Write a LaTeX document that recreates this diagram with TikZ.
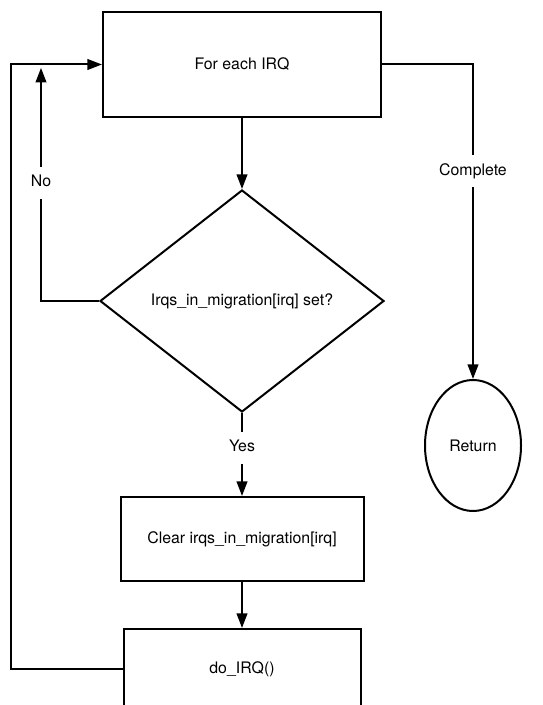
\documentclass[tikz,border=0pt]{standalone}
\usepackage{fontspec}
\setmainfont{TeX Gyre Heros}
\usetikzlibrary{arrows.meta,shapes.geometric}

\tikzset{
  box/.style={draw, minimum width=208.5pt, minimum height=78.75pt},
  test/.style={draw, diamond, aspect=1.28, minimum width=213pt, minimum height=166.5pt, inner sep=0pt},
  term/.style={draw, ellipse, minimum width=72pt, minimum height=98.25pt, inner sep=0pt},
  lbl/.style={fill=white, inner xsep=1pt, inner ysep=6.5pt, text height=8.5pt, text depth=2.5pt}
}

\begin{document}
\begin{tikzpicture}[x=0.75pt,y=-0.75pt,line width=1.5pt,
  >={Triangle[length=11pt,width=8pt]},
  font=\fontsize{11.9pt}{14pt}\selectfont]
  \useasboundingbox (0,0) rectangle (542,705);
  \clip (0,0) rectangle (542,705);

  \node[box] (each) at (242,64.5) {For each IRQ};
  \node[test] (chk) at (242,301) {Irqs\_in\_migration[irq] set?};
  \node[box, minimum width=182.25pt, minimum height=63pt] (clr) at (242,539) {Clear irqs\_in\_migration[irq]};
  \node[box, minimum width=177.75pt, minimum height=60pt] (doirq) at (242,669) {do\_IRQ()};
  \node[term] (ret) at (473,445.5) {Return};

  \coordinate (back) at (11,669);
  \coordinate (nojoin) at (41,64.5);

  \path[->] (each) edge (chk)
            (chk)  edge node[lbl, pos=0.42] {Yes} (clr)
            (clr)  edge (doirq);

  % loop back and exits
  \draw[->] (doirq.west) -- (back) |- (each.west);
  \draw[->, shorten >=2.5pt] (chk.west) -| node[lbl, pos=0.75] {No} (nojoin);
  \draw[->] (each.east) -| node[lbl, pos=0.67] {Complete} (ret.north);
\end{tikzpicture}
\end{document}
